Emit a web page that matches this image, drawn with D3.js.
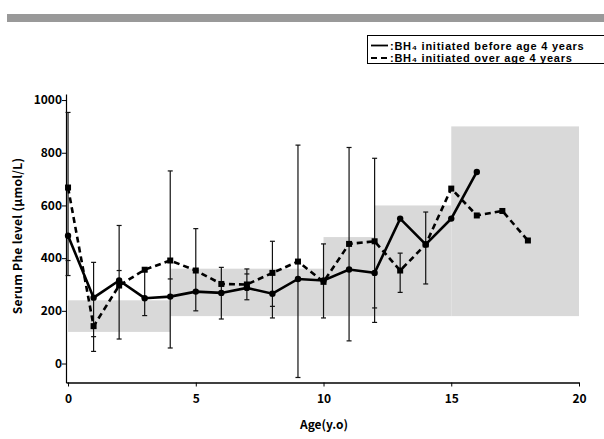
<!DOCTYPE html>
<html>
<head>
<meta charset="utf-8">
<script src="https://cdn.jsdelivr.net/npm/d3@7"></script>
<style>
  body { margin: 0; background: #fff; }
  svg { display: block; font-family: "Noto Sans CJK JP", "Liberation Sans", sans-serif; }
</style>
</head>
<body>
<div id="chart"></div>
<script>
// Serum Phe by age, two groups
const agesBefore = [0, 1, 2, 3, 4, 5, 6, 7, 8, 9, 10, 11, 12, 13, 14, 15, 16];
const pheBefore = [485, 250, 315, 248, 254, 273, 268, 287, 265, 321, 315, 357, 344, 550, 452, 550, 727];

const agesOver = [0, 1, 2, 3, 4, 5, 6, 7, 8, 9, 10, 11, 12, 13, 14, 15, 16, 17, 18];
const pheOver = [668, 142, 296, 356, 391, 353, 302, 300, 344, 387, 310, 454, 464, 353, 452, 664, 562, 579, 467];

// error bars (one per age)
const errAges = [0, 1, 2, 3, 4, 5, 6, 7, 8, 9, 10, 11, 12, 13, 14];
const errLow = [334, 46, 93, 182, 59, 200, 169, 242, 173, -53, 173, 86, 156, 270, 302];
const errHigh = [953, 384, 524, 350, 731, 512, 365, 359, 464, 829, 454, 820, 779, 419, 575];
const errMid = [391, 102, 353, null, 321, null, null, 340, 217, null, null, null, 211, null, null];

// recommended range (shaded)
const refStart = [0, 4, 10, 12, 15];
const refEnd = [4, 10, 12, 15, 20];
const refLow = [120, 180, 180, 180, 180];
const refHigh = [240, 360, 480, 600, 900];

const xTicks = [0, 5, 10, 15, 20];
const yTicks = [0, 200, 400, 600, 800, 1000];

const legendLabels = [":BH₄ initiated before age 4 years", ":BH₄ initiated over age 4 years"];

const width = 604;
const height = 439;

const x = d3.scaleLinear([-0.08, 20], [66, 579]);
const y = d3.scaleLinear([-72, 1023], [382.5, 94]);

const svg = d3.select("#chart").append("svg")
    .attr("width", width)
    .attr("height", height)
    .attr("viewBox", [0, 0, width, height]);

// header band
svg.append("rect")
    .attr("x", 7).attr("y", 14)
    .attr("width", width - 7).attr("height", 8)
    .attr("fill", "#999");

// shaded ranges
svg.append("g")
  .selectAll("rect")
  .data(refStart)
  .join("rect")
    .attr("x", (d, i) => x(d))
    .attr("width", (d, i) => x(refEnd[i]) - x(d))
    .attr("y", (d, i) => y(refHigh[i]))
    .attr("height", (d, i) => y(refLow[i]) - y(refHigh[i]))
    .attr("fill", "#d9d9d9");

// axes
svg.append("g")
    .attr("transform", `translate(0,${y(-72)})`)
    .call(d3.axisBottom(x).tickValues(xTicks).tickSize(4).tickSizeOuter(0))
    .call(g => g.select(".domain").attr("stroke-width", 1.5))
    .call(g => g.selectAll(".tick text")
        .attr("dy", "1.1em")
        .attr("font-size", 12).attr("font-weight", "bold")
        .attr("font-family", "'Noto Sans CJK JP', sans-serif"));

svg.append("g")
    .attr("transform", `translate(${x(-0.08)},0)`)
    .call(d3.axisLeft(y).tickValues(yTicks).tickFormat(d3.format("d")).tickSize(4).tickSizeOuter(0))
    .call(g => g.select(".domain").attr("stroke-width", 1.2))
    .call(g => g.selectAll(".tick text")
        .attr("x", -4)
        .attr("font-size", 12).attr("font-weight", "bold")
        .attr("font-family", "'Noto Sans CJK JP', sans-serif"));

// error bars
const eb = svg.append("g").attr("stroke", "#111").attr("stroke-width", 1.2);
errAges.forEach((a, i) => {
  const cx = x(a);
  eb.append("line").attr("x1", cx).attr("x2", cx).attr("y1", y(errLow[i])).attr("y2", y(errHigh[i]));
  [errLow[i], errHigh[i], errMid[i]].forEach(v => {
    if (v === null) return;
    eb.append("line").attr("x1", cx - 2.5).attr("x2", cx + 2.5).attr("y1", y(v)).attr("y2", y(v));
  });
});

const line = d3.line()
    .x(d => x(d[0]))
    .y(d => y(d[1]));

const overData = agesOver.map((a, i) => [a, pheOver[i]]);
const beforeData = agesBefore.map((a, i) => [a, pheBefore[i]]);

svg.append("path")
    .attr("d", line(overData))
    .attr("fill", "none")
    .attr("stroke", "#000")
    .attr("stroke-width", 2.6)
    .attr("stroke-dasharray", "6,4");

svg.append("path")
    .attr("d", line(beforeData))
    .attr("fill", "none")
    .attr("stroke", "#000")
    .attr("stroke-width", 2.6);

svg.append("g")
  .selectAll("rect")
  .data(overData)
  .join("rect")
    .attr("x", d => x(d[0]) - 3)
    .attr("y", d => y(d[1]) - 3)
    .attr("width", 6).attr("height", 6)
    .attr("fill", "#000");

svg.append("g")
  .selectAll("circle")
  .data(beforeData)
  .join("circle")
    .attr("cx", d => x(d[0]))
    .attr("cy", d => y(d[1]))
    .attr("r", 3.2)
    .attr("fill", "#000");

// axis titles
svg.append("text")
    .attr("x", 324).attr("y", 429)
    .attr("text-anchor", "middle")
    .attr("font-size", 12).attr("font-weight", "bold")
    .text("Age(y.o)");

svg.append("text")
    .attr("transform", "translate(22,236) rotate(-90)")
    .attr("text-anchor", "middle")
    .attr("font-size", 12).attr("font-weight", "bold")
    .attr("letter-spacing", 0.3)
    .text("Serum Phe level (μmol/L)");

// legend
const legend = svg.append("g");
legend.append("rect")
    .attr("x", 367.5).attr("y", 35.5)
    .attr("width", 240).attr("height", 28)
    .attr("fill", "#fff")
    .attr("stroke", "#000");

legendLabels.forEach((label, i) => {
  const ly = 45.5 + i * 12.5;
  legend.append("line")
      .attr("x1", 371).attr("x2", 388)
      .attr("y1", ly).attr("y2", ly)
      .attr("stroke", "#000").attr("stroke-width", 1.8)
      .attr("stroke-dasharray", i === 1 ? "6,4" : null);
  legend.append("text")
      .attr("x", 390).attr("y", ly + 4)
      .attr("font-family", "'Liberation Sans', sans-serif")
      .attr("font-size", 11).attr("font-weight", "bold")
      .attr("letter-spacing", 0.75)
      .text(label);
});
</script>
</body>
</html>
